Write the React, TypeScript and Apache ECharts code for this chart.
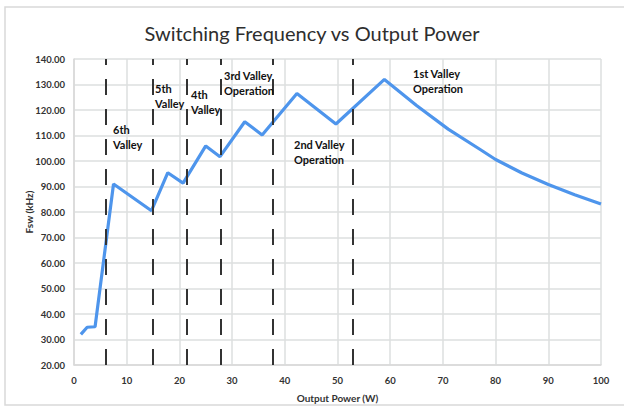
import React, { useEffect, useRef } from "react";
import * as echarts from "echarts";

const powerW = [1.3, 2.5, 4, 7.5, 14.7, 17.8, 20.7, 25, 27.7, 32.4, 35.7, 42.3, 49.7, 58.9, 65, 71, 77, 80, 85, 90, 95, 100];
const fswKHz = [32, 34.8, 35, 91, 80.5, 95.4, 91.3, 105.9, 101.7, 115.4, 110.2, 126.5, 114.5, 132, 121.8, 112.5, 104.6, 100.6, 95.3, 90.8, 86.8, 83.1];
const valleyBoundaries = [6.1, 15, 21.4, 27.8, 37.8, 52.9];
const annotationTexts = ["6th\nValley", "5th\nValley", "4th\nValley", "3rd Valley\nOperation", "2nd Valley\nOperation", "1st Valley\nOperation"];
const annotationPos = [
  [113, 122],
  [155, 81],
  [191, 87],
  [224, 68],
  [294, 137],
  [413, 66],
];

export default function App() {
  const ref = useRef<HTMLDivElement>(null);
  useEffect(() => {
    if (!ref.current) return;
    const chart = echarts.init(ref.current, undefined, { renderer: "svg" });
    const font = "Lato";
    const labelColor = "#333333";
    chart.setOption({
      animation: false,
      backgroundColor: "#ffffff",
      title: {
        text: "Switching Frequency vs Output Power",
        left: "center",
        top: 18,
        textStyle: { fontFamily: font, fontSize: 20, fontWeight: "normal", color: "#2e2e2e" },
      },
      grid: { left: 74, right: 23, top: 59, bottom: 44, containLabel: false },
      xAxis: {
        type: "value",
        min: 0,
        max: 100,
        interval: 10,
        name: "Output Power (W)",
        nameLocation: "middle",
        nameGap: 28,
        nameTextStyle: { fontFamily: font, fontSize: 10, fontWeight: "bold", color: labelColor },
        axisLine: { show: true, lineStyle: { color: "#d9d9d9", width: 1.5 } },
        axisTick: { show: false },
        axisLabel: { fontFamily: font, fontSize: 9.5, fontWeight: "bold", color: labelColor, margin: 10 },
        splitLine: { show: true, lineStyle: { color: "#dcdfdf", width: 1.5 } },
      },
      yAxis: {
        type: "value",
        min: 20,
        max: 140,
        interval: 10,
        name: "Fsw (kHz)",
        nameLocation: "middle",
        nameGap: 40,
        nameMoveOverlap: false,
        nameTextStyle: { fontFamily: font, fontSize: 10, fontWeight: "bold", color: labelColor },
        axisLine: { show: true, lineStyle: { color: "#d9d9d9", width: 1.5 } },
        axisTick: { show: false },
        axisLabel: {
          fontFamily: font,
          fontSize: 9.5,
          fontWeight: "bold",
          color: labelColor,
          margin: 9,
          formatter: (v: number) => v.toFixed(2),
        },
        splitLine: { show: true, lineStyle: { color: "#dcdfdf", width: 1.5 } },
      },
      series: [
        {
          type: "line",
          data: powerW.map((x, i) => [x, fswKHz[i]]),
          showSymbol: false,
          symbol: "none",
          lineStyle: { color: "#4e95ec", width: 3.2 },
          z: 3,
        },
        {
          type: "line",
          data: [],
          z: 4,
          markLine: {
            silent: true,
            symbol: "none",
            label: { show: false },
            lineStyle: { color: "#333333", width: 2, type: [16, 14] },
            data: valleyBoundaries.map((x) => ({ xAxis: x })),
          },
        },
      ],
      graphic: [
        {
          type: "rect",
          shape: { x: 5, y: 7, width: 640, height: 398 },
          style: { fill: "none", stroke: "#d9d9d9", lineWidth: 1.5 },
          silent: true,
        },
        ...annotationTexts.map((t, i) => ({
          type: "text",
          x: annotationPos[i][0],
          y: annotationPos[i][1],
          z: 10,
          style: {
            text: t,
            font: `bold 11px ${font}`,
            lineHeight: 15,
            fill: "#111111",
          },
        })),
      ],
    });
    return () => chart.dispose();
  }, []);
  return <div ref={ref} style={{ position: "absolute", left: 0, top: 0, width: 624, height: 409 }} />;
}
